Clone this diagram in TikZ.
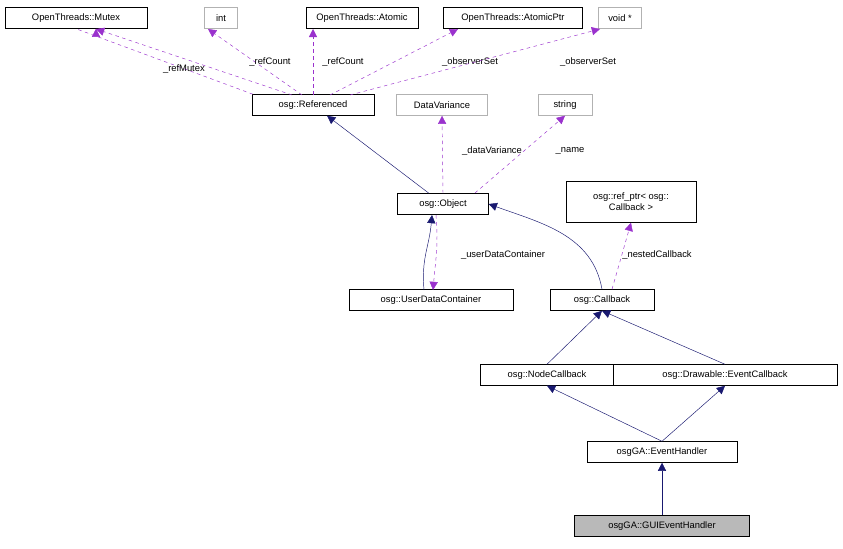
\documentclass[tikz,border=0pt]{standalone}
\usepackage{fontspec}
\setmainfont{Liberation Sans}
\usetikzlibrary{arrows.meta}

\definecolor{edgeblue}{RGB}{25,25,112}
\definecolor{usepurple}{RGB}{154,50,205}

\tikzset{
    cls/.style={rectangle, draw=black, fill=white, inner sep=1pt, minimum height=0.63cm, align=center},
    ext/.style={cls, draw=gray!60},
    inherit/.style={draw=edgeblue, -{Triangle[length=7pt,width=7pt]}},
    uses/.style={draw=usepurple, dashed, -{Triangle[length=7pt,width=7pt]}},
    lbl/.style={font=\fontsize{8}{9.5}\selectfont, inner sep=1pt}
}

\begin{document}
\begin{tikzpicture}[x=0.03cm, y=-0.03cm, font=\fontsize{8}{9.5}\selectfont]
    \useasboundingbox (0,0) rectangle (843,548);

    \node (mutex) [cls, minimum width=4.26cm] at (76,18) {OpenThreads::Mutex};
    \node (int) [ext, minimum width=0.99cm] at (221,18) {int};
    \node (atomic) [cls, minimum width=3.36cm] at (362,18) {OpenThreads::Atomic};
    \node (atomicptr) [cls, minimum width=4.17cm] at (513,18) {OpenThreads::AtomicPtr};
    \node (voidptr) [ext, minimum width=1.29cm] at (620,18) {void *};

    \node (referenced) [cls, minimum width=3.66cm] at (313,105) {osg::Referenced};
    \node (datavar) [ext, minimum width=2.73cm] at (442,105) {DataVariance};
    \node (string) [ext, minimum width=1.62cm] at (565,105) {string};

    \node (object) [cls, minimum width=2.73cm] at (443,204) {osg::Object};
    \node (refptr) [cls, minimum width=3.9cm, minimum height=1.23cm] at (631,202) {osg::ref\_ptr< osg::\\Callback >};

    \node (udc) [cls, minimum width=4.92cm] at (431,300) {osg::UserDataContainer};
    \node (callback) [cls, minimum width=3.12cm] at (602,300) {osg::Callback};

    \node (nodecb) [cls, minimum width=4.02cm] at (547,375) {osg::NodeCallback};
    \node (drawcb) [cls, minimum width=6.72cm] at (725,375) {osg::Drawable::EventCallback};

    \node (evhandler) [cls, minimum width=4.5cm] at (662,452) {osgGA::EventHandler};
    \node (guihandler) [cls, fill=gray!55, minimum width=5.25cm] at (662,526) {osgGA::GUIEventHandler};

    % members of Referenced
    \draw[uses] (referenced.north) ++(-60,0) coordinate (r1) -- (mutex.south) ++(20,0);
    \draw[uses] (292,95) -- (96,29) node[lbl, pos=0.45, below left=-2pt] {\_refMutex};
    \draw[uses] (302,95) -- (208,29) node[lbl, pos=0.45] (rc1) {};
    \node[lbl] at (270,62) {\_refCount};
    \draw[uses] (313,95) -- (313,29);
    \node[lbl] at (343,62) {\_refCount};
    \draw[uses] (330,95) -- (458,29);
    \node[lbl] at (470,62) {\_observerSet};
    \draw[uses] (350,95) -- (600,29);
    \node[lbl] at (588,62) {\_observerSet};

    % Object
    \draw[inherit] (object) -- (referenced);
    \draw[uses] (object.north) -- (datavar.south);
    \node[lbl] at (492,151) {\_dataVariance};
    \draw[uses] (475,193) -- (string.south);
    \node[lbl] at (570,151) {\_name};

    \draw[inherit] (424,290) to[out=95, in=265, looseness=1.1] (432,215);
    \draw[uses] (436,215) to[out=275, in=85] (433,290);
    \node[lbl] at (503,255) {\_userDataContainer};
    \draw[inherit] (callback.north) to[out=100, in=-20] (object.east);
    \draw[uses] (callback.north) ++(10,0) -- (refptr.south);
    \node[lbl] at (657,255) {\_nestedCallback};

    % inheritance chain
    \draw[inherit] (nodecb.north) -- (callback.south);
    \draw[inherit] (drawcb.north) -- (callback.south);
    \draw[inherit] (evhandler.north) -- (nodecb.south);
    \draw[inherit] (evhandler.north) -- (drawcb.south);
    \draw[inherit] (guihandler) -- (evhandler);
\end{tikzpicture}
\end{document}
